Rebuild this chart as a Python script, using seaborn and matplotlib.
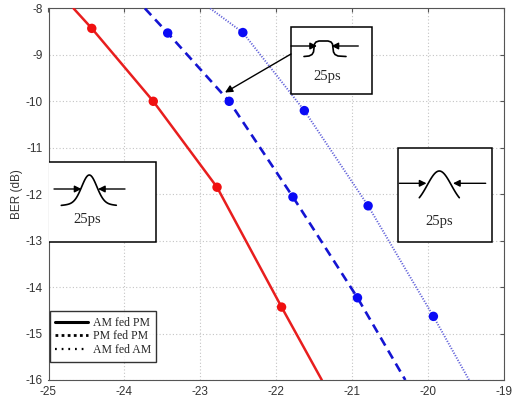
import numpy as np
import pandas as pd
import matplotlib
matplotlib.use('Agg')
import matplotlib.pyplot as plt
import seaborn as sns
from matplotlib.lines import Line2D
from matplotlib.patches import Rectangle

# ─────────────── data ───────────────
SERIES = ['AM fed PM', 'PM fed PM', 'AM fed AM']

# line paths (first/last points are where the curve leaves the frame)
am_pm_x = [-24.67, -24.43, -23.62, -22.78, -21.93, -21.40]
am_pm_y = [-8.0, -8.43, -10.0, -11.85, -14.43, -16.0]
pm_pm_x = [-23.73, -23.43, -22.62, -21.78, -20.93, -20.30]
pm_pm_y = [-8.0, -8.53, -10.0, -12.06, -14.23, -16.0]
am_am_x = [-22.87, -22.44, -21.63, -20.79, -19.93, -19.46]
am_am_y = [-8.0, -8.52, -10.2, -12.25, -14.63, -16.0]

X_TICKS = [-25, -24, -23, -22, -21, -20, -19]
Y_TICKS = [-16, -15, -14, -13, -12, -11, -10, -9, -8]
PULSE_LABEL = '25ps'

COLORS = {'AM fed PM': '#e81e1e', 'PM fed PM': '#1414d2', 'AM fed AM': '#6262da'}
MARKER_COLORS = {'AM fed PM': '#f01010', 'PM fed PM': '#0a0af5', 'AM fed AM': '#0a0af5'}

lines = pd.DataFrame({
    'x': am_pm_x + pm_pm_x + am_am_x,
    'y': am_pm_y + pm_pm_y + am_am_y,
    'series': [s for s in SERIES for _ in range(6)],
})
lines['order'] = list(range(6)) * 3
markers = lines[lines['order'].between(1, 4)]

# ─────────────── figure ───────────────
sns.set_style('whitegrid')
plt.rcParams['font.family'] = ['Liberation Sans', 'DejaVu Sans']

W, H = 512, 399
fig = plt.figure(figsize=(W / 100, H / 100), dpi=100)
L, R, T, B = 48.5, 504, 8.4, 380
ax = fig.add_axes([L / W, (H - B) / H, (R - L) / W, (B - T) / H])


def fx(px):
    return (px - L) / (R - L)


def fy(py):
    return (B - py) / (B - T)


styles = {'AM fed PM': dict(lw=1.8, ls='-'),
          'PM fed PM': dict(lw=1.9, ls=(0, (3.5, 2.2))),
          'AM fed AM': dict(lw=1.4, ls=(0, (0.6, 0.8)))}
for s in SERIES:
    d = lines[lines['series'] == s]
    sns.lineplot(data=d, x='x', y='y', sort=False, ax=ax, color=COLORS[s],
                 estimator=None, legend=False, zorder=3, **styles[s])
    m = markers[markers['series'] == s]
    sns.scatterplot(data=m, x='x', y='y', ax=ax, color=MARKER_COLORS[s],
                    s=46, edgecolor='none', legend=False, zorder=4)

ax.set_xlim(-25, -19)
ax.set_ylim(-16, -8)
ax.set_xticks(X_TICKS)
ax.set_yticks(Y_TICKS)
ax.set_xticklabels([str(v) for v in X_TICKS])
ax.set_yticklabels([str(v) for v in Y_TICKS])
ax.set_xlabel('')
ax.set_ylabel('BER (dB)', fontsize=8.5, color='#333333', labelpad=2)
ax.tick_params(axis='both', labelsize=8.5, labelcolor='#333333', direction='in',
               length=3, color='#555555', top=True, right=True, pad=4)
ax.grid(True, ls=(0, (1, 2)), color='#c4c4c4', lw=0.8)
for sp in ax.spines.values():
    sp.set_color('#555555')
    sp.set_linewidth(0.8)

# ─────────────── pulse insets ───────────────
serif = ['Liberation Serif', 'DejaVu Serif']


def box(x0, y0, x1, y1):
    ax.add_patch(Rectangle((fx(x0), fy(y1)), fx(x1) - fx(x0), fy(y0) - fy(y1),
                           transform=ax.transAxes, facecolor='white',
                           edgecolor='black', lw=1.1, zorder=6))


def arrows(xl0, xl1, xr0, xr1, y):
    for a, b in ((xl0, xl1), (xr0, xr1)):
        ax.annotate('', xy=(fx(b), fy(y)), xytext=(fx(a), fy(y)),
                    xycoords='axes fraction', textcoords='axes fraction',
                    arrowprops=dict(arrowstyle='-|>', color='black', lw=1.0,
                                    mutation_scale=10, shrinkA=0, shrinkB=0),
                    zorder=8)


def curve(px, py):
    ax.plot([fx(p) for p in px], [fy(p) for p in py], color='black', lw=1.2,
            transform=ax.transAxes, zorder=7, clip_on=False)


def label(px, py):
    ax.text(fx(px), fy(py), PULSE_LABEL, transform=ax.transAxes, ha='center',
            va='center', fontsize=10.5, family=serif, zorder=8)


# left: narrow pulse
box(48.3, 161.7, 156.3, 241.7)
g = np.linspace(-28, 27, 80)
curve(89.3 + g, 204 - 29 * np.exp(-g ** 2 / (2 * 7.5 ** 2)) + 0.0018 * g ** 2)
arrows(54, 81.5, 125, 98, 189)
label(87, 219.5)

# right: broad pulse
box(398.3, 148.3, 491.7, 241.7)
g = np.linspace(-20, 20, 60)
curve(439.3 + g, 171 + 35.6 * (1 - np.exp(-g ** 2 / (2 * 12 ** 2))))
arrows(399.3, 426.5, 485.7, 453, 183.3)
label(439.3, 221.7)

# top: flat-top pulse with curled feet
box(291, 27.3, 372.3, 94)
curve([304, 309, 312, 313.5, 314, 314.5, 316, 319, 328, 331, 332.5, 333, 333.5, 335, 338, 346],
      [56.5, 56, 54.5, 52, 48, 44, 42, 41, 41, 42, 44, 48, 52, 54.5, 56, 56.5])
arrows(291, 317, 358.3, 331.5, 46)
label(327, 77)
ax.annotate('', xy=(fx(225), fy(92.5)), xytext=(fx(291), fy(54)),
            xycoords='axes fraction', textcoords='axes fraction',
            arrowprops=dict(arrowstyle='-|>', color='black', lw=1.0,
                            mutation_scale=11, shrinkA=0, shrinkB=0), zorder=8)

# ─────────────── legend ───────────────
handles = [Line2D([], [], color='black', lw=2.2, ls='-'),
           Line2D([], [], color='black', lw=2.0, ls=(0, (1, 1.2))),
           Line2D([], [], color='black', lw=1.6, ls=(0, (0.8, 2.2)))]
leg = ax.legend(handles, SERIES, loc='lower left',
                bbox_to_anchor=(fx(49.5), fy(361.5)), frameon=True, fancybox=False,
                prop={'family': serif, 'size': 8.5}, handlelength=2.8,
                handletextpad=0.4, labelspacing=0.15, borderpad=0.45,
                borderaxespad=0)
leg.get_frame().set_edgecolor('black')
leg.get_frame().set_linewidth(1.0)
leg.set_zorder(9)

fig.savefig('out.png', dpi=100, facecolor='white')
